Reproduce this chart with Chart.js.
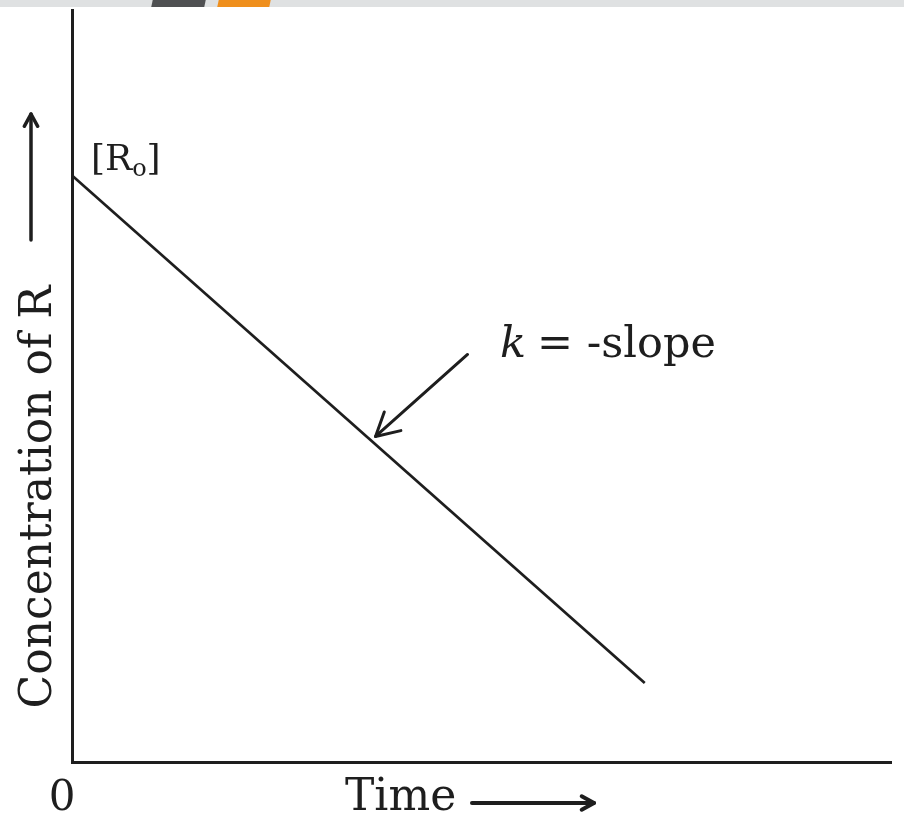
<!DOCTYPE html>
<html>
<head>
<meta charset="utf-8">
<script src="https://cdn.jsdelivr.net/npm/chart.js@4.4.1/dist/chart.umd.min.js"></script>
<style>
  body { margin: 0; background: #fff; }
  #wrap { position: relative; width: 904px; height: 820px; }
  #topbar { position: absolute; left: 0; top: 0; width: 904px; height: 7px; background: #dfe1e2; }
  .tab { position: absolute; top: 0; height: 7px; transform: skewX(-12deg); }
</style>
</head>
<body>
<div id="wrap">
  <canvas id="chart" width="904" height="820"></canvas>
  <div id="topbar">
    <div class="tab" style="left:152px;width:53px;background:#4f5052"></div>
    <div class="tab" style="left:218px;width:52px;background:#ef8f1d"></div>
  </div>
</div>
<script>
// data
const times = [0, 10];
const concentration = [7.8, 1.05];
const xMax = 14.3;
const yMax = 10;
const arrowAt = 5.3;   // time where the "k = -slope" arrow touches the line

const ink = "#1e1e1e";
const serif = '"DejaVu Serif", "Liberation Serif", serif';

function lineValue(t) {
    const slope = (concentration[1] - concentration[0]) / (times[1] - times[0]);
    return concentration[0] + slope * (t - times[0]);
}

function arrow(ctx, x1, y1, x2, y2, head, width) {
    const a = Math.atan2(y2 - y1, x2 - x1);
    ctx.lineWidth = width;
    ctx.beginPath();
    ctx.moveTo(x1, y1);
    ctx.lineTo(x2, y2);
    ctx.stroke();
    ctx.beginPath();
    ctx.moveTo(x2 - head * Math.cos(a - 0.5), y2 - head * Math.sin(a - 0.5));
    ctx.lineTo(x2, y2);
    ctx.lineTo(x2 - head * Math.cos(a + 0.5), y2 - head * Math.sin(a + 0.5));
    ctx.stroke();
}

// labels and arrows drawn on top of the chart
const labels = {
    id: "labels",
    afterDraw(chart) {
        const ctx = chart.ctx;
        const xs = chart.scales.x, ys = chart.scales.y;
        const area = chart.chartArea;
        ctx.save();
        ctx.fillStyle = ink;
        ctx.strokeStyle = ink;
        ctx.lineCap = "round";
        ctx.lineJoin = "round";

        // origin
        ctx.font = "42px " + serif;
        ctx.textAlign = "center";
        ctx.textBaseline = "middle";
        ctx.fillText("0", xs.getPixelForValue(0) - 10, area.bottom + 37);

        // x title
        ctx.font = "44px " + serif;
        ctx.textAlign = "left";
        ctx.fillText("Time", 345, area.bottom + 37);
        arrow(ctx, 472, area.bottom + 41, 594, area.bottom + 41, 14, 4);

        // y title
        ctx.save();
        ctx.translate(40, 497);
        ctx.rotate(-Math.PI / 2);
        ctx.textAlign = "center";
        ctx.fillText("Concentration of R", 0, 0);
        ctx.restore();
        arrow(ctx, 31, 240, 31, 114, 14, 3.5);

        // [R0]
        const r0y = ys.getPixelForValue(concentration[0]);
        const r0x = xs.getPixelForValue(times[0]);
        ctx.font = "36px " + serif;
        ctx.textAlign = "left";
        ctx.textBaseline = "alphabetic";
        ctx.fillText("[R", r0x + 19, r0y - 5);
        let w = ctx.measureText("[R").width;
        ctx.font = "24px " + serif;
        ctx.fillText("o", r0x + 19 + w, r0y + 1);
        let w2 = ctx.measureText("o").width;
        ctx.font = "36px " + serif;
        ctx.fillText("]", r0x + 19 + w + w2, r0y - 5);

        // k = -slope
        const tx = xs.getPixelForValue(arrowAt);
        const ty = ys.getPixelForValue(lineValue(arrowAt)) - 8;
        arrow(ctx, tx + 92, ty - 82, tx, ty, 26, 3);
        ctx.font = "italic 43px " + serif;
        ctx.textBaseline = "alphabetic";
        ctx.fillText("k", 500, 357);
        ctx.font = "43px " + serif;
        ctx.fillText("= -slope", 537, 357);
        ctx.restore();
    }
};

new Chart(document.getElementById("chart"), {
    type: "scatter",
    data: {
        datasets: [{
            data: times.map((t, i) => ({ x: t, y: concentration[i] })),
            showLine: true,
            borderColor: ink,
            borderWidth: 2.8,
            pointRadius: 0
        }]
    },
    options: {
        responsive: false,
        animation: false,
        layout: { padding: { left: 72, top: 10, right: 13, bottom: 58 } },
        plugins: { legend: { display: false }, tooltip: { enabled: false } },
        scales: {
            x: {
                min: 0, max: xMax,
                ticks: { display: false },
                grid: { display: false, drawTicks: false },
                border: { display: true, color: ink, width: 3 }
            },
            y: {
                min: 0, max: yMax,
                ticks: { display: false },
                grid: { display: false, drawTicks: false },
                border: { display: true, color: ink, width: 3 }
            }
        }
    },
    plugins: [labels]
});
</script>
</body>
</html>
